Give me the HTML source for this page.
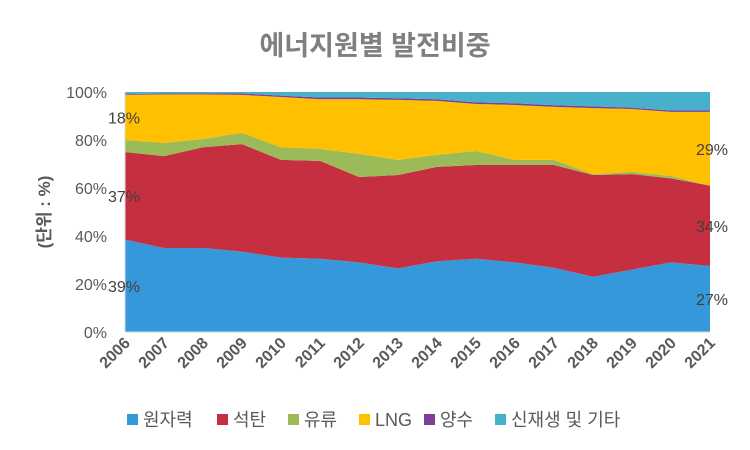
<!DOCTYPE html>
<html><head><meta charset="utf-8"><style>
body{margin:0;background:#fff;}
svg{display:block;font-family:"Liberation Sans","Noto Sans CJK KR",sans-serif;}
</style></head><body>
<svg id="chart" width="750" height="450">
<text x="375" y="55" text-anchor="middle" font-size="27" font-weight="bold" fill="#7f7f7f">에너지원별 발전비중</text>
<text transform="translate(50,212) rotate(-90)" text-anchor="middle" font-size="17" font-weight="bold" fill="#595959">(단위 : %)</text>
<g id="areas"></g><g id="axes"></g><g id="labels"></g><g id="legend"></g>
</svg>
<script>
const years=["2006","2007","2008","2009","2010","2011","2012","2013","2014","2015","2016","2017","2018","2019","2020","2021"];
const nuclear=[38.5,35,35,33.5,31,30.5,29,26.5,29.5,30.5,29,26.7,23,26,29,27.5];
const coal=[36.5,38.3,42,44.8,40.7,40.8,35.6,38.9,39.3,39.1,40.6,42.9,42.4,39.8,35,33.5];
const oil=[5,5.5,3.4,4.7,5.3,5,9.6,6.3,5,5.8,2.1,2.1,0.4,0.9,1,0];
const lng=[18.8,20.2,18.6,15.8,20.9,20.7,22.8,25,22.5,19.6,22.9,22.1,27.5,26.2,26.7,30.7];
const pumped=[0.3,0.4,0.5,0.6,0.6,0.7,0.7,0.7,0.7,0.7,0.7,0.7,0.7,0.6,0.6,0.6];
const renew=[0.9,0.6,0.5,0.6,1.5,2.3,2.3,2.6,3,4.3,4.7,5.5,6,6.5,7.7,7.7];
const seriesNames=["원자력","석탄","유류","LNG","양수","신재생 및 기타"];
const yTicks=[0,20,40,60,80,100];
const firstLabels=["39%","37%","","18%","",""];
const lastLabels=["27%","34%","","29%","",""];
const series=[nuclear,coal,oil,lng,pumped,renew];
const colors=["#3598db","#c62f3f","#9bbb59","#ffc000","#7f3f98","#47b0cb"];
const keys=["nuclear","coal","oil","lng","pumped","renewable"];
const X0=125,X1=710,Y0=332,Y1=92;
const x=i=>X0+(X1-X0)*i/(years.length-1);
const y=v=>Y0-(Y0-Y1)*v/100;
const NS="http://www.w3.org/2000/svg";
function mk(t,a,p){const e=document.createElementNS(NS,t);for(const k in a)e.setAttribute(k,a[k]);p.appendChild(e);return e;}
const areas=document.getElementById('areas'),axes=document.getElementById('axes'),labels=document.getElementById('labels'),legend=document.getElementById('legend');
let base=years.map(()=>0);
const bases=[];
series.forEach((s,k)=>{
  const top=base.map((b,i)=>b+s[i]);
  let d="";
  top.forEach((v,i)=>{d+=(i?"L":"M")+x(i)+","+y(v);});
  for(let i=years.length-1;i>=0;i--)d+="L"+x(i)+","+y(base[i]);
  const p=mk('path',{d:d+"Z",fill:colors[k]},areas);
  
  
  bases.push([base.slice(),top]);
  base=top;
});
mk('line',{x1:X0,y1:Y1,x2:X0,y2:Y0,stroke:"#d9d9d9"},axes);
mk('line',{x1:X0,y1:Y0,x2:X1,y2:Y0,stroke:"#d9d9d9"},axes);
yTicks.forEach(t=>{
  const e=mk('text',{x:107,y:y(t)+6,"text-anchor":"end","font-size":16,fill:"#595959"},axes);
  e.textContent=t+"%";
  
  
});
years.forEach((yr,i)=>{
  const e=mk('text',{transform:`translate(${x(i)+6},${Y0+12}) rotate(-45)`,"text-anchor":"end","font-size":16,"font-weight":"bold",fill:"#595959"},axes);
  e.textContent=yr;
  
  
});
series.forEach((s,k)=>{
  const n=years.length-1;
  if(firstLabels[k]){
    const e=mk('text',{x:x(0)-1,y:y((bases[k][0][0]+bases[k][1][0])/2)+6,"text-anchor":"middle","font-size":16,fill:"#404040"},labels);
    e.textContent=firstLabels[k];
    
    
  }
  if(lastLabels[k]){
    const e=mk('text',{x:x(n)+2,y:y((bases[k][0][n]+bases[k][1][n])/2)+6,"text-anchor":"middle","font-size":16,fill:"#404040"},labels);
    e.textContent=lastLabels[k];
    
    
  }
});
const lx=[127,217,288,359,424,495];
seriesNames.forEach((nm,k)=>{
  const g=mk('g',{},legend);
  
  
  mk('rect',{x:lx[k],y:414,width:11,height:11,fill:colors[k]},g);
  const t=mk('text',{x:lx[k]+16,y:426,"font-size":18,fill:"#595959"},g);
  t.textContent=nm;
});
</script>
</body></html>
